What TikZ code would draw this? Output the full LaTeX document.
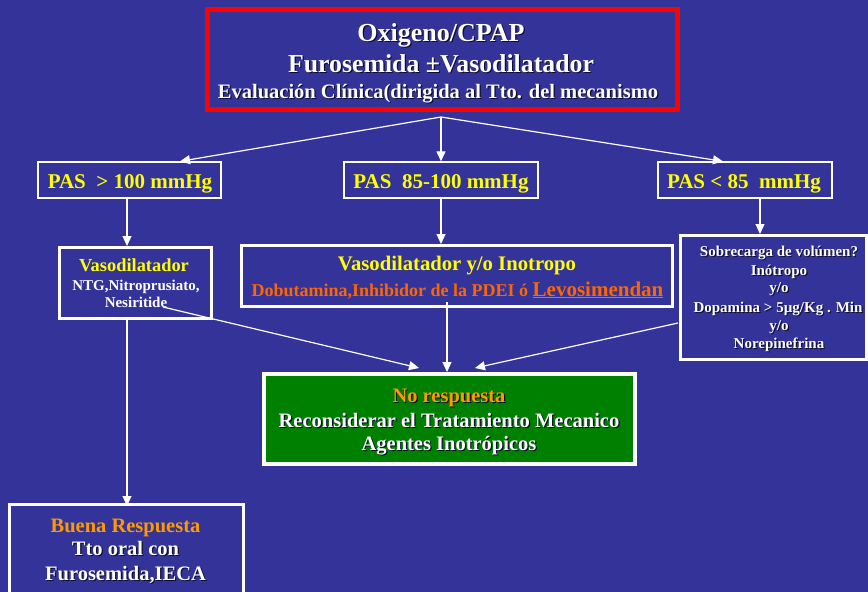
\documentclass[tikz,border=0pt]{standalone}
\usepackage{fontspec}
\setmainfont{Liberation Serif}
\usetikzlibrary{arrows.meta}
\definecolor{bgblue}{RGB}{51,51,153}
\definecolor{boxred}{RGB}{255,0,0}
\definecolor{txtyellow}{RGB}{255,255,0}
\definecolor{txtorange}{RGB}{255,102,0}
\definecolor{txtamber}{RGB}{255,153,0}
\definecolor{boxgreen}{RGB}{0,128,0}
\definecolor{shadowcol}{RGB}{15,15,45}
% text with a small dark drop shadow
\newcommand\shd[1]{\leavevmode\rlap{\kern1.2pt\raisebox{-1.2pt}{\color{shadowcol}#1}}#1}
\begin{document}
\begin{tikzpicture}[x=1pt,y=-1pt,
  txt/.style={anchor=base,inner sep=0,outer sep=0,text=white,font=\bfseries\fontsize{#1}{#1}\selectfont},
  thinbox/.style={draw=white,line width=1.3pt,inner sep=0},
  thickbox/.style={draw=white,line width=3pt,inner sep=0},
  conn/.style={draw=white,line width=1.2pt,-{Triangle[length=10pt,width=9pt]}}]
\fill[bgblue] (0,0) rectangle (868,592);
\useasboundingbox (0,0) rectangle (868,592);

% top box
\node[draw=boxred,line width=5pt,inner sep=0,minimum width=470pt,minimum height=100pt] (top) at (442.5,59.5) {};
\node[txt=26] (top1) at (441,41) {\shd{Oxigeno/CPAP}};
\node[txt=25.8] (top2) at (441,72) {\shd{Furosemida ±Vasodilatador}};
\node[txt=20.5] (top3) at (438,98) {\shd{Evaluación Clínica(dirigida al Tto. del mecanismo}};

% pressure branches
\node[thinbox,minimum width=183pt,minimum height=36pt] (pasL) at (129.5,180) {};
\node[txt=21,text=txtyellow] (pasLt) at (130,188) {PAS\ \ > 100 mmHg};
\node[thinbox,minimum width=194pt,minimum height=36pt] (pasM) at (441,180) {};
\node[txt=21,text=txtyellow] (pasMt) at (441,188) {PAS\ \ 85-100 mmHg};
\node[thinbox,minimum width=174pt,minimum height=36pt] (pasR) at (745,180) {};
\node[txt=21,text=txtyellow] (pasRt) at (744,188) {PAS < 85\ \ mmHg};

\coordinate (hub) at (441,117);
\draw[conn] (hub) -- ([xshift=50.5pt]pasL.north);
\draw[conn] (hub) -- (pasM.north);
\draw[conn] (hub) -- ([xshift=-22pt]pasR.north);

% treatment boxes
\node[thickbox,minimum width=152pt,minimum height=71pt] (vaso) at (135.5,283) {};
\node[txt=18.4,text=txtyellow] (vaso1) at (134,271) {Vasodilatador};
\node[txt=15] (vaso2) at (136,290) {NTG,Nitroprusiato,};
\node[txt=15] (vaso3) at (136,307) {Nesiritide};

\node[thickbox,minimum width=431pt,minimum height=61pt] (ino) at (457,276) {};
\node[txt=20.7,text=txtyellow] (ino1) at (457,270) {Vasodilatador y/o Inotropo};
\node[txt=18,text=txtorange] (ino2) at (457.5,296) {Dobutamina,Inhibidor de la PDEI ó \fontsize{21}{21}\selectfont\underline{Levosimendan}};

\node[thickbox,minimum width=186pt,minimum height=124pt] (vol) at (773,297.5) {};
\node[txt=15] (vol1) at (779,256) {\shd{Sobrecarga de volúmen?}};
\node[txt=15] (vol2) at (779,275) {\shd{Inótropo}};
\node[txt=15] (vol3) at (779,292) {\shd{y/o}};
\node[txt=15] (vol4) at (778,312) {\shd{Dopamina > 5µg/Kg . Min}};
\node[txt=15] (vol5) at (779,330) {\shd{y/o}};
\node[txt=15] (vol6) at (779,348) {\shd{Norepinefrina}};

\draw[conn] (127,198) coordinate (pasLs) -- (pasLs |- vaso.north);
\draw[conn] (pasM.south) -- (pasM.south |- ino.north);
\draw[conn] (760,198) coordinate (pasRs) -- (pasRs |- vol.north);

% outcome boxes
\node[draw=white,fill=boxgreen,line width=4pt,inner sep=0,minimum width=371pt,minimum height=90pt] (nores) at (449.5,419) {};
\node[txt=20.5,text=txtamber] (nores1) at (449,402) {\shd{No respuesta}};
\node[txt=20.5] (nores2) at (449,427) {\shd{Reconsiderar el Tratamiento Mecanico}};
\node[txt=20.5] (nores3) at (449,450) {\shd{Agentes Inotrópicos}};

\node[thickbox,minimum width=234pt,minimum height=100pt] (good) at (126.5,554.5) {};
\node[txt=20.5,text=txtamber] (good1) at (125.5,532) {Buena Respuesta};
\node[txt=20.5] (good2) at (125.5,555) {\shd{Tto oral con}};
\node[txt=20.5] (good3) at (125.5,580) {\shd{Furosemida,IECA}};

\coordinate (vasoOut) at (163,307);
\coordinate (inoOut) at (447,302);
\coordinate (volOut) at (678,323);
\draw[conn] (vasoOut) -- (419,368) coordinate (inL);
\draw[conn] (inoOut) -- (inoOut |- nores.north);
\draw[conn] (volOut) -- (475,368) coordinate (inR);
\draw[conn] (127,320) coordinate (vasoS) -- ([yshift=-3pt]vasoS |- good.north);
\end{tikzpicture}
\end{document}
